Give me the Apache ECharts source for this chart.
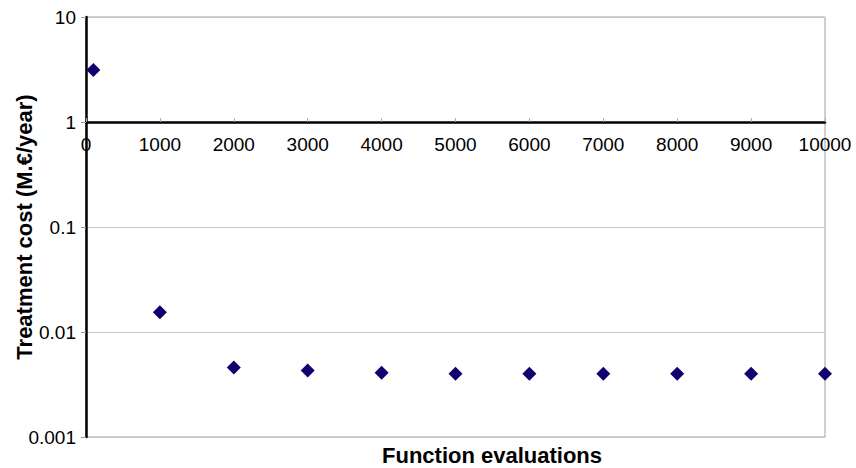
<!DOCTYPE html>
<html><head><meta charset="utf-8">
<script src="https://cdn.jsdelivr.net/npm/echarts@6/dist/echarts.min.js"></script>
<style>html,body{margin:0;padding:0;background:#fff}#c{width:856px;height:468px}</style>
</head><body><div id="c"></div>
<script>
const evaluations = [100, 1000, 2000, 3000, 4000, 5000, 6000, 7000, 8000, 9000, 10000];
const cost = [3.13, 0.0154, 0.0046, 0.0043, 0.0041, 0.0040, 0.0040, 0.0040, 0.0040, 0.0040, 0.0040];
const xName = 'Function evaluations';
const yName = 'Treatment cost (M.\u20AC/year)';

const FONT = 'Liberation Sans, Arial, sans-serif';
const chart = echarts.init(document.getElementById('c'), null, {renderer: 'svg'});
chart.setOption({
  animation: false,
  backgroundColor: '#fff',
  title: {
    text: xName, left: 382, top: 444, padding: 0,
    textStyle: {fontFamily: FONT, fontSize: 22, fontWeight: 'bold', color: '#000'}
  },
  grid: [
    {left: 86, right: 31, top: 17, bottom: 31, show: true, borderColor: '#a0a0a0', borderWidth: 1,
     containLabel: false, outerBoundsMode: 'none'},
    {left: 86, right: 31, top: 17, height: 105, show: false, containLabel: false, outerBoundsMode: 'none'}
  ],
  xAxis: [
    {gridIndex: 0, type: 'value', min: 0, max: 10000, interval: 1000,
     axisLine: {show: false}, axisTick: {show: false}, axisLabel: {show: false}, splitLine: {show: false}},
    {gridIndex: 1, type: 'value', min: 0, max: 10000, interval: 1000, position: 'bottom',
     axisLine: {show: true, onZero: false, lineStyle: {color: '#000', width: 2.5}},
     axisTick: {show: true, inside: true, length: 4, lineStyle: {color: '#aaa'}},
     axisLabel: {fontFamily: FONT, fontSize: 19, color: '#000', margin: 13, formatter: v => String(v)},
     splitLine: {show: false}}
  ],
  yAxis: [
    {gridIndex: 0, type: 'log', logBase: 10, min: 0.001, max: 10,
     name: yName, nameLocation: 'middle', nameGap: 51, nameRotate: 90, nameMoveOverlap: false,
     nameTextStyle: {fontFamily: FONT, fontSize: 22, fontWeight: 'bold', color: '#000'},
     axisLine: {show: true, lineStyle: {color: '#000', width: 2.5}},
     axisTick: {show: true, length: 5, lineStyle: {color: '#999'}},
     axisLabel: {fontFamily: FONT, fontSize: 19, color: '#000', margin: 10,
       formatter: v => String(+v.toPrecision(3))},
     splitLine: {show: true, lineStyle: {color: '#c8c8c8', width: 1}}},
    {gridIndex: 1, type: 'value', show: false, min: 0, max: 1}
  ],
  series: [{
    type: 'scatter', xAxisIndex: 0, yAxisIndex: 0,
    data: evaluations.map((x, i) => [x, cost[i]]),
    symbol: 'diamond', symbolSize: [14, 14],
    itemStyle: {color: '#12006e', opacity: 1}
  }]
});
</script></body></html>
